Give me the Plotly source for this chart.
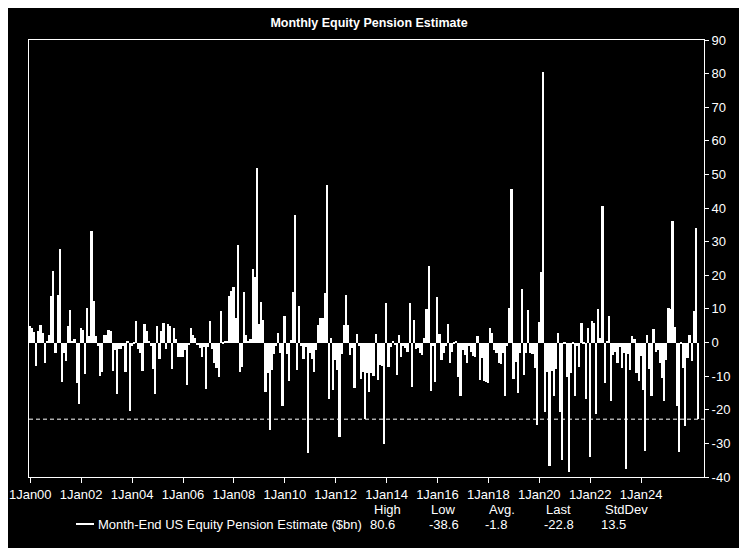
import pandas as pd
import plotly.graph_objects as go

# monthly values, $bn, Jan 2000 onwards
y2000 = [5, 4.3, 3, -7, 3.3, 5.2, 2.8, -6.2, 0.5, 2.2, 13.9, 21.3]
y2001 = [-3.2, 14, 27.9, -11.7, -3, -5.4, 5, 9.6, 0.5, 1, -12, -18.3]
y2002 = [4.3, 3.8, -9.4, 10.3, 2, 33.3, 12.3, 2, -1, -10, -8.7, 2.3]
y2003 = [2.3, 3.8, 3.5, -8.4, -2.2, -15.3, -2, -2, -1, -8.7, 0.5, -20.3]
y2004 = [-1, -0.5, 6.5, -2, -3, -8.4, 5.5, 3.3, 0.5, -1, -8, -15.3]
y2005 = [4.8, -5, 3.5, 5.8, -2, 5.5, 5, -8, 4.3, 1, -4.4, -4.4]
y2006 = [-4.4, -2.2, -12.7, -0.7, 4.2, 2.3, 1.3, -0.7, -1.5, -4.2, -1.2, -13.8]
y2007 = [-1.2, 6.5, -2, -6.2, -7.7, -10.2, 9.3, -0.5, 0.5, 0.3, 13.9, 15.4]
y2008 = [16.4, 7.3, 28.9, -8.7, -7.2, 15, 2.3, 0.5, 1, 22, 19.4, 52]
y2009 = [5.5, 12.1, 6.8, -14.8, -9.2, -26, -8.2, -3.4, -1, 2.8, -3.2, -18.8]
y2010 = [7.8, -3.4, -11.4, 0.8, 15, 37.8, -8.2, 11, -1, -5, -1.2, -33]
y2011 = [-3.2, -5, -8.7, -2.2, 5.3, 7.3, 7.3, 14.7, 47, -16.8, 1.3, -14]
y2012 = [-5.2, -8.2, -28, -3.4, 5.1, 14.2, 5.1, -3.7, -1.7, -13.5, 2.6, -1]
y2013 = [-10.7, -8.7, -22.6, -9.2, -14.8, -9, -10, 2.6, -11, -6.7, -7, -30.3]
y2014 = [11.8, -7.2, -1.2, 0.3, -0.7, -9.7, 2.3, -4.2, -1, -1.7, -2.7, 11.8]
y2015 = [-13.3, 6.8, -2, -1.7, -3.2, -3.7, 1.3, 10, 22.9, -14.3, -1, -11.7]
y2016 = [13.4, 2.6, -5.2, -3, -1, 5.5, -6, -2.7, -0.5, 0.3, -10.2, -15.8]
y2017 = [-2.2, -3.7, -6.2, -1, -2.7, -4, -4.2, 1.8, -11, -4.5, -11.4, -11.7]
y2018 = [-12, 4.3, 2.8, -2.2, -3.2, -6.2, -6.5, -3, -16, -1, 10.3, 45.7]
y2019 = [-10.7, -5.7, -15, -3, 15.9, -9.7, -3.2, 9.6, -3, -3.5, -7.7, -24.6]
y2020 = [6, 20.9, 80.6, -20.8, -8.7, -36.8, -8.5, -15.8, -8, 2.8, -20.8, -35]
y2021 = [-0.5, -10.2, -38.6, -9.2, -0.5, -15.8, -1, -7.2, 5.8, -0.5, -16.8, 4.3]
y2022 = [-34, 6.5, 5.9, -21.4, 10, 1.3, 40.7, -12, 0.3, 8, -17.5, -3.8]
y2023 = [-2.9, -6.1, -1.2, -7.7, -3, -37.6, -3.3, -8.1, 2, 1, -9.1, -11.5]
y2024 = [-4.1, -14, -32.2, 2.3, -8, -16, 3.9, -2.7, -2.2, -6.1, -10.5, -17.4]
y2025 = [-5.1, 10.4, 9.9, 36.3, 4.5, -18.9, -32.7, -0.4, -7.6, -24.8, -4.6, 2.3]
y2026 = [-5.6, 9.5, 34, -22.8]

values = (y2000 + y2001 + y2002 + y2003 + y2004 + y2005 + y2006 + y2007 + y2008
          + y2009 + y2010 + y2011 + y2012 + y2013 + y2014 + y2015 + y2016
          + y2017 + y2018 + y2019 + y2020 + y2021 + y2022 + y2023 + y2024
          + y2025 + y2026)
dates = pd.date_range("2000-01-01", periods=len(values), freq="MS")

tick_years = list(range(2000, 2025, 2))
y_ticks = list(range(-40, 91, 10))

series_name = "Month-End US Equity Pension Estimate ($bn)"
stat_labels = ["High", "Low", "Avg.", "Last", "StdDev"]
stat_values = ["80.6", "-38.6", "-1.8", "-22.8", "13.5"]

FONT = "Liberation Sans, Arial, sans-serif"
PAD = 8  # page body margin the figure sits in
W, H = 747 - PAD, 548 - PAD
# plot box in page pixels
L, R, T, B = 29, 704, 40, 477


def px(x):
    return (x - L) / (R - L)


def py(y):
    return (B - y) / (B - T)


fig = go.Figure()
fig.add_trace(go.Bar(
    x=dates, y=values, width=25 * 86400000,
    marker=dict(color="white", line=dict(width=0)),
    showlegend=False, hoverinfo="x+y",
))

# last value reference line
fig.add_shape(type="line", xref="paper", x0=0, x1=1, yref="y",
              y0=values[-1], y1=values[-1],
              line=dict(color="white", width=1, dash="4px,3px"))

# legend line + stats table under the chart
fig.add_shape(type="line", xref="paper", yref="paper",
              x0=px(76), x1=px(94), y0=py(524), y1=py(524),
              line=dict(color="white", width=2))
fig.add_annotation(text=series_name, xref="paper", yref="paper",
                   x=px(96), y=py(524), xanchor="left", yanchor="middle",
                   showarrow=False, font=dict(color="white", size=13, family=FONT))

head_x = [372, 429, 487, 544, 603]
val_x = [368, 427, 483, 542, 599]
for lab, val, hx, vx in zip(stat_labels, stat_values, head_x, val_x):
    fig.add_annotation(text=lab, xref="paper", yref="paper", x=px(hx), y=py(509),
                       xanchor="left", yanchor="middle", showarrow=False,
                       font=dict(color="white", size=13, family=FONT))
    fig.add_annotation(text=val, xref="paper", yref="paper", x=px(vx), y=py(524),
                       xanchor="left", yanchor="middle", showarrow=False,
                       font=dict(color="white", size=13, family=FONT))

fig.update_layout(
    width=W, height=H,
    margin=dict(l=L - PAD, r=W - (R - PAD), t=T - PAD, b=H - (B - PAD)),
    paper_bgcolor="black", plot_bgcolor="black",
    title=dict(text="<b>Monthly Equity Pension Estimate</b>",
               x=(369 - PAD) / W, y=1 - (23 - PAD) / H,
               xanchor="center", yanchor="middle",
               font=dict(color="white", size=12.5, family=FONT)),
    font=dict(color="white", family=FONT, size=13),
    bargap=0,
)
fig.update_xaxes(
    type="date", range=["1999-12-14", "2026-06-22"], automargin=False,
    tickvals=[f"{y}-01-01" for y in tick_years],
    ticktext=[f"1Jan{y % 100:02d}" for y in tick_years],
    ticks="outside", ticklen=5, tickcolor="white",
    showline=True, linecolor="white", linewidth=1, mirror=True,
    showgrid=False, zeroline=False,
    tickfont=dict(color="white", size=13, family=FONT),
)
fig.update_yaxes(
    side="right", range=[-40, 90], automargin=False,
    tickvals=y_ticks, ticktext=[str(v) for v in y_ticks],
    ticks="outside", ticklen=4, tickcolor="white",
    showline=True, linecolor="white", linewidth=1, mirror=True,
    showgrid=False, zeroline=False,
    tickfont=dict(color="white", size=13, family=FONT),
)

fig.write_html("out.html")
